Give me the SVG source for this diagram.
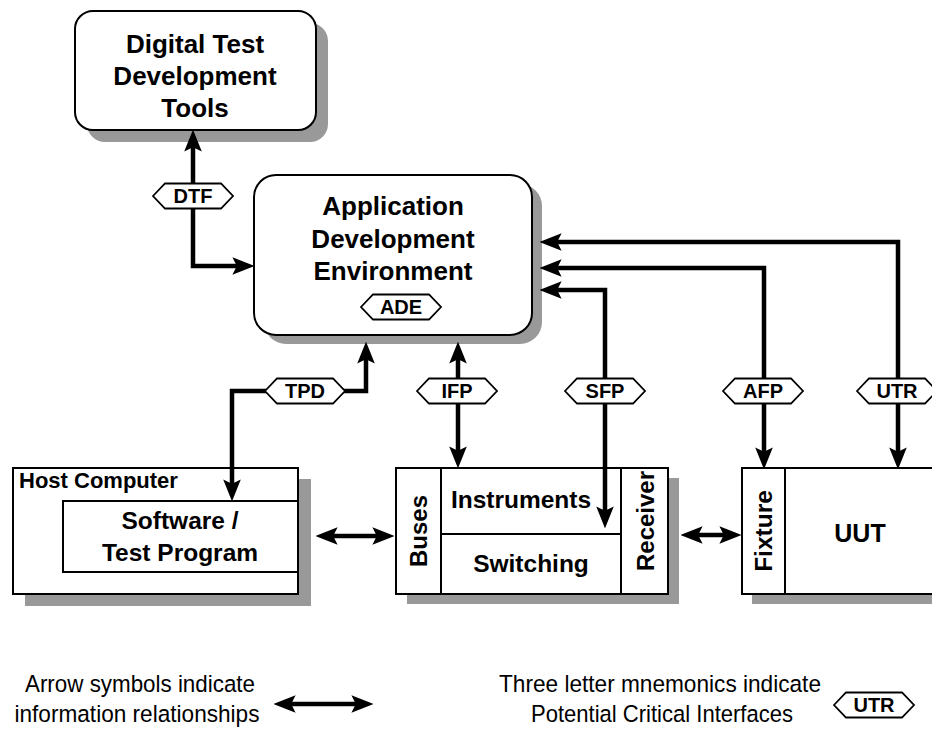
<svg xmlns="http://www.w3.org/2000/svg" width="932" height="731" viewBox="0 0 932 731">
<style>
.box{fill:#fff;stroke:#000;stroke-width:2}
.sh{fill:#999;stroke:none}
.t{font-family:"Liberation Sans",Arial,sans-serif;font-weight:bold;fill:#000;text-anchor:middle}
.lg{font-family:"Liberation Sans",Arial,sans-serif;fill:#000;text-anchor:middle;font-size:24.5px}
.hex{fill:#fff;stroke:#000;stroke-width:1.8}
.ht{font-family:"Liberation Sans",Arial,sans-serif;font-weight:bold;font-size:20px;text-anchor:middle;fill:#000}
.c{fill:none;stroke:#000;stroke-width:4.5;marker-start:url(#ah);marker-end:url(#ah)}
.div{stroke:#000;stroke-width:2}
</style>
<defs>
<marker id="ah" markerUnits="userSpaceOnUse" markerWidth="22" markerHeight="18" viewBox="0 0 20 16" refX="6" refY="8" orient="auto-start-reverse">
<path d="M0,0 L20,8 L0,16 L4,8 Z" fill="#000"/>
</marker>
<polygon id="hx" points="-40,0 -28,-12.5 28,-12.5 40,0 28,12.5 -28,12.5"/>
</defs>

<g id="digital-test-tools">
<rect class="sh" x="87" y="23" width="241" height="119" rx="18"/>
<rect class="box" x="75" y="11" width="241" height="119" rx="18"/>
<text class="t" font-size="26" x="195" y="53">Digital Test</text>
<text class="t" font-size="26" x="195" y="85">Development</text>
<text class="t" font-size="26" x="195" y="117">Tools</text>
</g>

<g id="ade">
<rect class="sh" x="264" y="184" width="278" height="160" rx="22"/>
<rect class="box" x="254" y="175" width="278" height="160" rx="22"/>
<text class="t" font-size="26" x="393" y="215">Application</text>
<text class="t" font-size="26" x="393" y="248">Development</text>
<text class="t" font-size="26" x="393" y="280">Environment</text>
</g>

<g id="host-computer">
<rect class="sh" x="25" y="479" width="286" height="127"/>
<rect class="box" x="13" y="468" width="285" height="126"/>
<text class="t" font-size="22" x="19" y="488" style="text-anchor:start">Host Computer</text>
</g>

<g id="software">
<rect class="box" x="63" y="501" width="235" height="71"/>
<text class="t" font-size="24.5" x="180" y="529">Software /</text>
<text class="t" font-size="24.5" x="180" y="561">Test Program</text>
</g>

<g id="instruments">
<rect class="sh" x="407" y="478" width="272" height="126"/>
<rect class="box" x="396" y="468" width="272" height="126"/>
<line class="div" x1="441" y1="468" x2="441" y2="594"/>
<line class="div" x1="621" y1="468" x2="621" y2="594"/>
<line class="div" x1="441" y1="534" x2="621" y2="534" stroke-width="1.5"/>
<text class="t" font-size="24.5" x="521" y="508">Instruments</text>
<text class="t" font-size="24.5" x="531" y="572">Switching</text>
<text class="t" font-size="24" transform="translate(427,531) rotate(-90)">Buses</text>
<text class="t" font-size="24" transform="translate(654,521) rotate(-90)">Receiver</text>
</g>

<g id="fixture-uut">
<rect class="sh" x="752" y="478" width="200" height="126"/>
<rect class="box" x="742" y="468" width="200" height="126"/>
<line class="div" x1="785" y1="468" x2="785" y2="594"/>
<text class="t" font-size="24.5" transform="translate(772,531) rotate(-90)">Fixture</text>
<text class="t" font-size="25" x="860" y="542">UUT</text>
</g>

<g id="connectors">
<path class="c" d="M193,145 V266 H239"/>
<path class="c" d="M366,357 V391 H232 V486"/>
<path class="c" d="M458,357 V453"/>
<path class="c" d="M555,290 H605 V513"/>
<path class="c" d="M555,268 H764 V454"/>
<path class="c" d="M555,242 H898 V454"/>
<path class="c" d="M331,536 H379"/>
<path class="c" d="M696,535 H726"/>
</g>

<g id="labels">
<g id="lbl-dtf" transform="translate(193,196)"><use href="#hx" class="hex"/><text class="ht" y="7">DTF</text></g>
<g id="lbl-ade" transform="translate(401,307)"><use href="#hx" class="hex"/><text class="ht" y="7">ADE</text></g>
<g id="lbl-tpd" transform="translate(305,391)"><use href="#hx" class="hex"/><text class="ht" y="7">TPD</text></g>
<g id="lbl-ifp" transform="translate(457,391)"><use href="#hx" class="hex"/><text class="ht" y="7">IFP</text></g>
<g id="lbl-sfp" transform="translate(605,391)"><use href="#hx" class="hex"/><text class="ht" y="7">SFP</text></g>
<g id="lbl-afp" transform="translate(763,391)"><use href="#hx" class="hex"/><text class="ht" y="7">AFP</text></g>
<g id="lbl-utr" transform="translate(897,391)"><use href="#hx" class="hex"/><text class="ht" y="7">UTR</text></g>
</g>

<g id="legend">
<text class="lg" x="140" y="692" textLength="230" lengthAdjust="spacingAndGlyphs">Arrow symbols indicate</text>
<text class="lg" x="137" y="722" textLength="245" lengthAdjust="spacingAndGlyphs">information relationships</text>
<path class="c" d="M289,704 H358"/>
<text class="lg" x="660" y="692" textLength="322" lengthAdjust="spacingAndGlyphs">Three letter mnemonics indicate</text>
<text class="lg" x="662" y="722" textLength="262" lengthAdjust="spacingAndGlyphs">Potential Critical Interfaces</text>
<g id="lbl-legend-utr" transform="translate(874,705)"><use href="#hx" class="hex"/><text class="ht" y="7">UTR</text></g>
</g>
</svg>
